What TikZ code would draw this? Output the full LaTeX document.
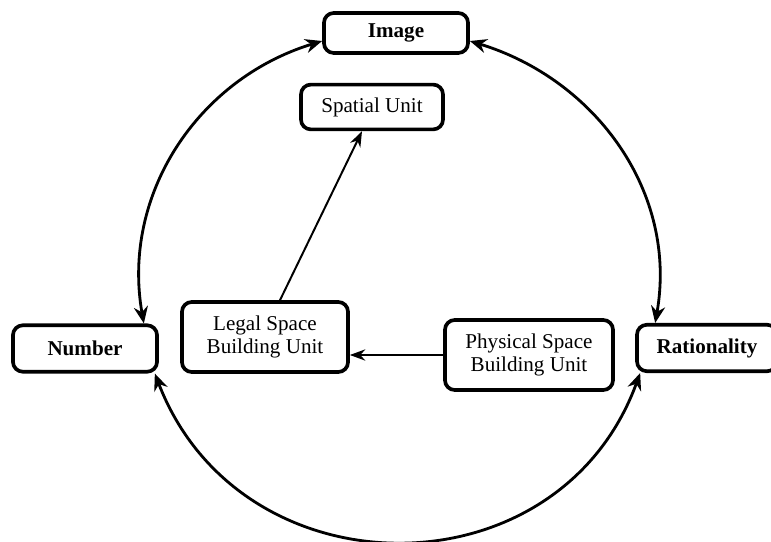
\documentclass[tikz,border=0pt]{standalone}
\usepackage{fontspec}
\setmainfont{Liberation Serif}
\usepackage{tikz}
\usetikzlibrary{arrows.meta}

\begin{document}
\begin{tikzpicture}[x=0.025cm,y=0.025cm,
box/.style={draw,line width=2.6pt,rounded corners=7pt,fill=white,align=center,inner sep=0pt,font=\fontsize{15}{17}\selectfont},
bbox/.style={box,font=\fontsize{15}{17}\selectfont\bfseries,minimum height=1.16cm},
cyc/.style={line width=2pt,{Stealth[length=12pt,width=10pt]}-{Stealth[length=12pt,width=10pt]}},
lnk/.style={line width=1.4pt,-{Stealth[length=11pt,width=8pt]}}]
\useasboundingbox(0,0)rectangle(771,541);
\node[bbox,minimum width=3.6cm,minimum height=1.0cm](image)at(396,508){Image};
\node[bbox,minimum width=3.6cm](number)at(85,192.5){Number};
\node[bbox,minimum width=3.5cm](rationality)at(707,193){Rationality};
\node[box,minimum width=3.55cm,minimum height=1.12cm](spatial)at(372,434){Spatial Unit};
\node[box,minimum width=4.15cm,minimum height=1.75cm](legal)at(265,204){Legal Space\\Building Unit};
\node[box,minimum width=4.2cm,minimum height=1.75cm](physical)at(529,186){Physical Space\\Building Unit};
\draw[cyc]([yshift=-0.2cm]image.west)to[out=197,in=100]([xshift=-0.375cm]number.north east);
\draw[cyc]([yshift=-0.2cm]image.east)to[out=-17,in=80]([xshift=0.5cm]rationality.north west);
\draw[cyc]([xshift=-0.1cm]number.south east)to[out=291,in=250,looseness=1.26]([xshift=0.125cm]rationality.south west);
\draw[lnk]([xshift=0.375cm]legal.north)--([xshift=-0.25cm]spatial.south);
\draw[lnk](physical.west)--(physical.west-|legal.east);
\end{tikzpicture}
\end{document}
